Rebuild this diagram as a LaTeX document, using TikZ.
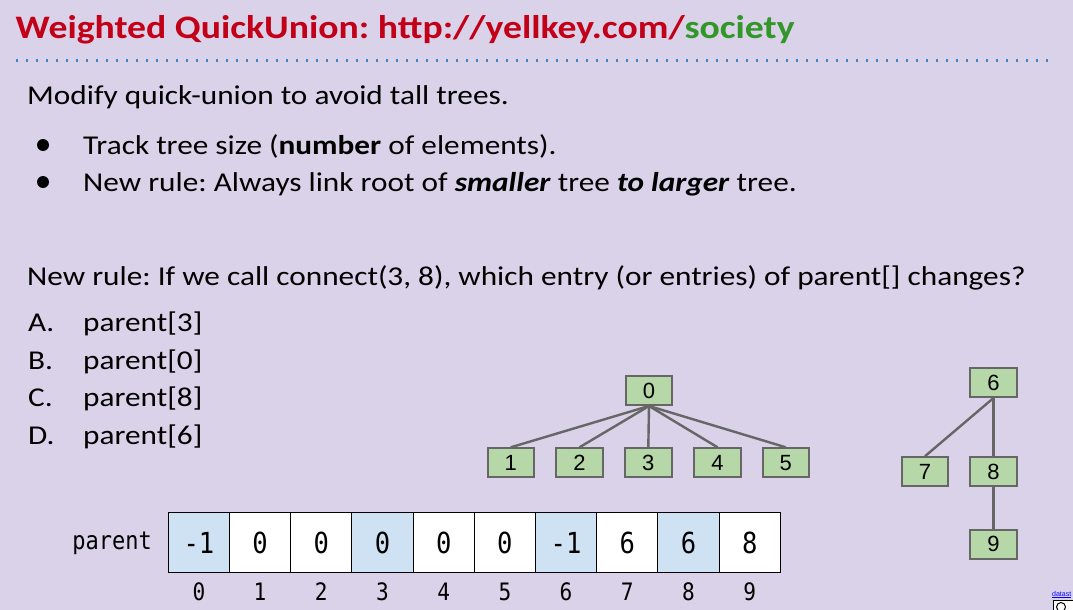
\documentclass[tikz,border=0pt]{standalone}
\usepackage{fontspec}
\setmainfont[FakeStretch=1.15]{Carlito}
\setmonofont[FakeStretch=0.88]{DejaVu Sans Mono}
\newfontfamily\arialfont{Liberation Sans}
\frenchspacing

\definecolor{slidebg}{HTML}{D9D2E9}
\definecolor{titlered}{RGB}{194,0,24}
\definecolor{urlgreen}{RGB}{50,150,40}
\definecolor{dotblue}{HTML}{3D85C6}
\definecolor{nodegreen}{HTML}{B6D7A8}
\definecolor{nodegray}{HTML}{666666}
\definecolor{cellblue}{HTML}{CFE2F3}
\newcommand{\bodyfont}{\fontsize{27.2}{32}\selectfont}

\begin{document}
\begin{tikzpicture}[
  x=1pt, y=-1pt,
  txt/.style={anchor=base west, inner sep=0, font=\bodyfont},
  treenode/.style={
    draw=nodegray, fill=nodegreen, line width=2pt,
    minimum width=46.5pt, minimum height=29pt, inner sep=0,
    font=\arialfont\fontsize{22}{24}\selectfont,
  },
  edge/.style={draw=nodegray, line width=2.4pt},
  cellbox/.style={
    draw=black, line width=1pt, fill=white,
    minimum width=61.2pt, minimum height=59.6pt, inner sep=0,
    font=\ttfamily\fontsize{29}{30}\selectfont,
  },
  hlcell/.style={cellbox, fill=cellblue},
  idx/.style={anchor=base, inner sep=0, font=\ttfamily\fontsize{24}{26}\selectfont},
  ]
  \useasboundingbox[fill=slidebg] (0,0) rectangle (1073,610);
  \begin{scope}
  \clip (0,0) rectangle (1073,610);

  % title and rule
  \node[txt, font=\fontsize{32.8}{38}\selectfont\bfseries, text=titlered] (title) at (15.5,38.5)
    {Weighted QuickUnion: http://yellkey.com/\textcolor{urlgreen}{society}};
  \coordinate (ruleL) at (16,60.5);
  \coordinate (ruleR) at (1050,60.5);
  \draw[dotblue, line width=2.5pt, dash pattern=on 2pt off 8pt] (ruleL) -- (ruleR);

  % text
  \node[txt] (intro) at (27,104.5) {Modify quick-union to avoid tall trees.};
  \fill (43,145) circle (6pt);
  \node[txt] (itemA) at (83,154) {Track tree size (\textbf{number} of elements).};
  \fill (43,182) circle (6pt);
  \node[txt] (itemB) at (83,191) {New rule: Always link root of \textbf{\textit{smaller}} tree \textbf{\textit{to larger}} tree.};
  \node[txt] (question) at (27,285) {New rule: If we call connect(3, 8), which entry (or entries) of parent[] changes?};
  \node[txt] (optA) at (28,331.7) {A.};
  \node[txt] (ansA) at (83,331.7) {parent[3]};
  \node[txt] (optB) at (28,369.2) {B.};
  \node[txt] (ansB) at (83,369.2) {parent[0]};
  \node[txt] (optC) at (28,406.7) {C.};
  \node[txt] (ansC) at (83,406.7) {parent[8]};
  \node[txt] (optD) at (28,444.2) {D.};
  \node[txt] (ansD) at (83,444.2) {parent[6]};

  % tree rooted at 0
  \node[treenode] (n0) at (649,390.5) {0};
  \node[treenode] (n1) at (510.8,462.8) {1};
  \node[treenode] (n2) at (579.5,462.8) {2};
  \node[treenode] (n3) at (648.3,462.8) {3};
  \node[treenode] (n4) at (717.5,462.8) {4};
  \node[treenode] (n5) at (785.8,462.8) {5};
  \draw[edge] (n0.south) -- (n1.north);
  \draw[edge] (n0.south) -- (n2.north);
  \draw[edge] (n0.south) -- (n3.north);
  \draw[edge] (n0.south) -- (n4.north);
  \draw[edge] (n0.south) -- (n5.north);

  % tree rooted at 6
  \node[treenode] (n6) at (993.5,382.5) {6};
  \node[treenode] (n7) at (925,471.7) {7};
  \node[treenode] (n8) at (993.5,471.7) {8};
  \node[treenode] (n9) at (993.5,544) {9};
  \draw[edge] (n6.south) -- (n7.north);
  \draw[edge] (n6.south) -- (n8.north);
  \draw[edge] (n8.south) -- (n9.north);

  % parent array
  \node[anchor=base east, inner sep=0, font=\ttfamily\fontsize{25}{28}\selectfont] (plabel) at (152,549) {parent};
  \node[hlcell]  (c0) at (198.9,542.5) {-1};
  \node[cellbox] (c1) at (260.1,542.5) {0};
  \node[cellbox] (c2) at (321.3,542.5) {0};
  \node[hlcell]  (c3) at (382.5,542.5) {0};
  \node[cellbox] (c4) at (443.7,542.5) {0};
  \node[cellbox] (c5) at (504.9,542.5) {0};
  \node[hlcell]  (c6) at (566.1,542.5) {-1};
  \node[cellbox] (c7) at (627.3,542.5) {6};
  \node[hlcell]  (c8) at (688.5,542.5) {6};
  \node[cellbox] (c9) at (749.7,542.5) {8};
  \node[idx] (i0) at (198.9,600) {0};
  \node[idx] (i1) at (260.1,600) {1};
  \node[idx] (i2) at (321.3,600) {2};
  \node[idx] (i3) at (382.5,600) {3};
  \node[idx] (i4) at (443.7,600) {4};
  \node[idx] (i5) at (504.9,600) {5};
  \node[idx] (i6) at (566.1,600) {6};
  \node[idx] (i7) at (627.3,600) {7};
  \node[idx] (i8) at (688.5,600) {8};
  \node[idx] (i9) at (749.7,600) {9};

  % footer link in the corner
  \node[anchor=base west, inner sep=0, text=blue, font=\arialfont\fontsize{7}{8}\selectfont] (foot) at (1052,596)
    {\underline{datast}};
  \draw[fill=white, line width=0.8pt] (1053,600) rectangle (1080,614);
  \draw[line width=1pt] (1061,607) circle (4.5pt);
  \end{scope}
\end{tikzpicture}
\end{document}
